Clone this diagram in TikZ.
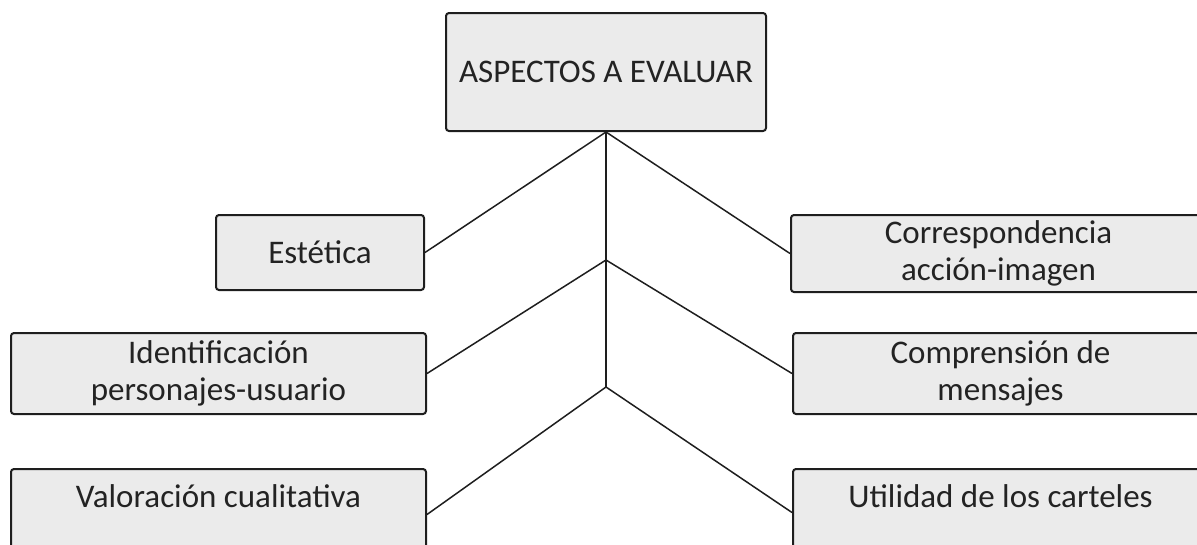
\documentclass[tikz,border=0pt]{standalone}
\usepackage{fontspec}
\setmainfont{Carlito}
\usetikzlibrary{positioning}
\definecolor{boxgray}{RGB}{235,235,235}
\definecolor{txtgray}{RGB}{35,35,35}
\definecolor{edgegray}{RGB}{30,30,30}

\begin{document}
\begin{tikzpicture}[x=1pt,y=-1pt,font=\fontsize{33}{37}\selectfont,text=txtgray,
   bx/.style={draw=edgegray,line width=2pt,rounded corners=3pt,fill=boxgray,
              align=center,inner sep=0pt},
   wide/.style={bx,minimum width=415pt,minimum height=81pt},
   low/.style={wide,text height=22pt,text depth=27pt},
   ln/.style={draw=edgegray,line width=1.5pt}]
  \useasboundingbox (0,0) rectangle (1197,544);
  \node[bx,minimum width=320pt,minimum height=118pt] (asp) at (606,72) {ASPECTOS A EVALUAR};
  \node[bx,minimum width=208pt,minimum height=75pt] (est) at (320,252.5) {Estética};
  \node[wide] (ide) at (218.5,373.5) {Identificación\\personajes-usuario};
  \node[low,below=53pt of ide] (val) {Valoración cualitativa};
  \node[wide,minimum height=77pt] (cor) at (998.5,253.5) {Correspondencia\\acción-imagen};
  \node[wide,right=365pt of ide] (com) {Comprensión de\\mensajes};
  \node[low,below=53pt of com] (uti) {Utilidad de los carteles};
  % junctions on the trunk
  \coordinate (j1) at (asp.south);
  \coordinate (j2) at (606,260);
  \coordinate (j3) at (606,387);
  \draw[ln] (j1) -- (j3);
  \draw[ln] (est.east) -- (j1) -- (cor.west);
  \draw[ln] (ide.east) -- (j2) -- (com.west);
  \draw[ln] ([yshift=-5pt]val.east) -- (j3) -- ([yshift=-3pt]uti.west);
\end{tikzpicture}
\end{document}
